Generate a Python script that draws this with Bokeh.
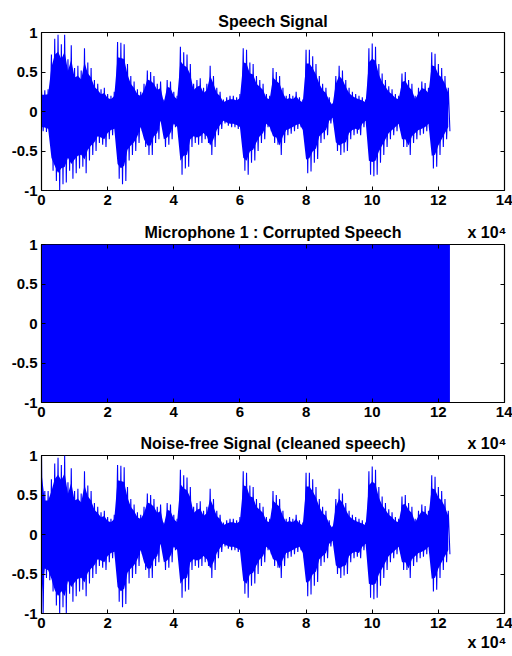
from bokeh.plotting import figure
from bokeh.layouts import column
from bokeh.models import FixedTicker, LinearAxis, Range1d
from bokeh.embed import file_html
from bokeh.resources import INLINE

# ---------------- data ----------------
sample_step = 1000  # envelope read every 1000 samples

speech_upper = [
    0.27, 0.27, 0.28, 0.72, 0.92, 0.97, 0.85, 0.97, 0.66, 0.84,
    0.55, 0.58, 0.52, 0.80, 0.62, 0.55, 0.40, 0.35, 0.28, 0.30,
    0.22, 0.20, 0.25, 0.88, 0.87, 0.85, 0.60, 0.45, 0.38, 0.28,
    0.25, 0.35, 0.52, 0.50, 0.45, 0.35, 0.38, 0.15, 0.40, 0.38,
    0.25, 0.20, 0.82, 0.75, 0.72, 0.60, 0.35, 0.40, 0.42, 0.30,
    0.35, 0.58, 0.45, 0.30, 0.25, 0.15, 0.18, 0.20, 0.20, 0.18,
    0.22, 0.80, 0.78, 0.62, 0.60, 0.45, 0.40, 0.35, 0.22, 0.20,
    0.55, 0.50, 0.45, 0.30, 0.20, 0.22, 0.20, 0.25, 0.18, 0.15,
    0.78, 0.78, 0.70, 0.60, 0.45, 0.35, 0.30, 0.18, 0.10, 0.45,
    0.58, 0.52, 0.40, 0.30, 0.25, 0.22, 0.20, 0.18, 0.15, 0.80,
    0.86, 0.82, 0.60, 0.48, 0.40, 0.32, 0.28, 0.22, 0.20, 0.48,
    0.50, 0.40, 0.35, 0.20, 0.30, 0.38, 0.36, 0.30, 0.75, 0.73,
    0.60, 0.55, 0.45, 0.30,
]
speech_lower = [
    -0.25, -0.26, -0.28, -0.75, -0.88, -1.00, -0.92, -0.90, -0.75, -0.85,
    -0.78, -0.72, -0.70, -0.78, -0.62, -0.55, -0.50, -0.40, -0.42, -0.45,
    -0.35, -0.30, -0.28, -0.85, -0.92, -0.88, -0.62, -0.55, -0.50, -0.40,
    -0.25, -0.45, -0.55, -0.55, -0.40, -0.35, -0.15, -0.45, -0.42, -0.35,
    -0.20, -0.25, -0.80, -0.72, -0.70, -0.45, -0.40, -0.42, -0.40, -0.35,
    -0.40, -0.55, -0.45, -0.30, -0.22, -0.15, -0.18, -0.20, -0.20, -0.22,
    -0.25, -0.75, -0.80, -0.65, -0.62, -0.50, -0.40, -0.35, -0.20, -0.25,
    -0.40, -0.42, -0.55, -0.40, -0.30, -0.28, -0.25, -0.22, -0.20, -0.30,
    -0.78, -0.76, -0.65, -0.60, -0.40, -0.35, -0.30, -0.15, -0.10, -0.50,
    -0.55, -0.52, -0.50, -0.35, -0.30, -0.28, -0.30, -0.20, -0.15, -0.80,
    -0.82, -0.80, -0.65, -0.55, -0.45, -0.35, -0.30, -0.25, -0.20, -0.45,
    -0.45, -0.55, -0.40, -0.35, -0.30, -0.28, -0.25, -0.20, -0.72, -0.70,
    -0.55, -0.45, -0.35, -0.25,
]

clean_head_upper = [1.00, 0.55, 0.55, 0.70, 0.90, 0.97, 0.88, 1.00]
clean_head_lower = [-1.00, -0.55, -0.58, -0.72, -0.90, -1.00, -0.92, -1.00]
clean_upper = clean_head_upper + speech_upper[len(clean_head_upper):]
clean_lower = clean_head_lower + speech_lower[len(clean_head_lower):]

noise_x = [0, 123500]
noise_top = [1.0, 1.0]
noise_bottom = [-1.0, -1.0]

x_ticks = [0, 20000, 40000, 60000, 80000, 100000, 120000, 140000]
x_tick_labels = ["0", "2", "4", "6", "8", "10", "12", "14"]
y_ticks = [-1, -0.5, 0, 0.5, 1]
y_tick_labels = ["-1", "-0.5", "0", "0.5", "1"]
exponent_label = "x 10\u2074"

titles = ["Speech Signal", "Microphone 1 : Corrupted Speech",
          "Noise-free Signal (cleaned speech)"]

BLUE = "#0000ff"
FONT = "Liberation Sans"
TITLE_X = 70000      # centre of the axes box
EXPONENT_X = 134700  # where MATLAB puts the "x 10^4" multiplier
CORE_FRACTION = 0.78  # drawing style: dense core of the waveform


def zigzag(upper, lower):
    xs, ys = [], []
    for i, (u, l) in enumerate(zip(upper, lower)):
        xs += [i * sample_step, i * sample_step + sample_step / 2]
        ys += [u, l]
    return xs, ys


def text_axis(ticks, labels, standoff, size):
    return LinearAxis(ticker=FixedTicker(ticks=ticks),
                      major_label_overrides=dict(zip(ticks, labels)),
                      major_tick_in=0, major_tick_out=0,
                      major_tick_line_color=None, minor_tick_line_color=None,
                      axis_line_color=None, major_label_standoff=standoff,
                      major_label_text_font=FONT,
                      major_label_text_font_size=size,
                      major_label_text_font_style="bold",
                      major_label_text_color="black")


def make_fig(height, top, bottom):
    p = figure(width=512, height=height, x_range=Range1d(0, 140000),
               y_range=Range1d(-1, 1), output_backend="svg",
               toolbar_location=None, min_border_left=41, min_border_right=8,
               min_border_top=top, min_border_bottom=bottom,
               background_fill_color="white", border_fill_color="white")
    p.grid.visible = False
    p.outline_line_color = "black"
    p.outline_line_alpha = 1
    p.outline_line_width = 1.2

    xt = FixedTicker(ticks=x_ticks)
    yt = FixedTicker(ticks=y_ticks)
    for ax in p.xaxis:
        ax.ticker = xt
        ax.major_label_overrides = dict(zip(x_ticks, x_tick_labels))
    for ax in p.yaxis:
        ax.ticker = yt
        ax.major_label_overrides = dict(zip(y_ticks, y_tick_labels))
    for ax in p.xaxis + p.yaxis:
        ax.minor_tick_line_color = None
        ax.major_tick_in = 4
        ax.major_tick_out = 0
        ax.major_tick_line_color = "black"
        ax.axis_line_color = "black"
        ax.major_label_text_font = FONT
        ax.major_label_text_font_size = "15px"
        ax.major_label_text_font_style = "bold"
        ax.major_label_text_color = "black"
        ax.major_label_standoff = 4

    # inward ticks on the top and right edges of the box (no labels)
    top_ax = LinearAxis(ticker=xt,
                        major_label_overrides={t: "" for t in x_ticks},
                        major_label_text_font_size="1px",
                        major_tick_in=4, major_tick_out=0,
                        major_label_standoff=0,
                        minor_tick_line_color=None, axis_line_color=None)
    right_ax = LinearAxis(ticker=yt,
                          major_label_overrides={t: "" for t in y_ticks},
                          major_label_text_font_size="1px",
                          major_tick_in=4, major_tick_out=0,
                          major_label_standoff=0,
                          minor_tick_line_color=None, axis_line_color=None)
    p.add_layout(top_ax, "above")
    p.add_layout(right_ax, "right")
    return p


def waveform(p, upper, lower):
    xs = [i * sample_step for i in range(len(upper))]
    core_hi = [CORE_FRACTION * u for u in upper]
    core_lo = [CORE_FRACTION * l for l in lower]
    p.varea(x=xs, y1=core_lo, y2=core_hi, fill_color=BLUE)
    zx, zy = zigzag(upper, lower)
    p.line(zx, zy, line_color=BLUE, line_width=1.1)


# ---- subplot 1 ----
p1 = make_fig(220, 32, 30)
waveform(p1, speech_upper, speech_lower)
p1.add_layout(text_axis([TITLE_X], [titles[0]], 3, "16px"), "above")

# ---- subplot 2 (title line also carries the x 10^4 of subplot 1) ----
p2 = make_fig(211, 24, 29)
p2.varea(x=noise_x, y1=noise_bottom, y2=noise_top, fill_color=BLUE)
p2.add_layout(text_axis([TITLE_X, EXPONENT_X],
                        [titles[1], exponent_label], 4, "16px"), "above")

# ---- subplot 3 ----
p3 = make_fig(225, 24, 43)
waveform(p3, clean_upper, clean_lower)
p3.add_layout(text_axis([TITLE_X, EXPONENT_X],
                        [titles[2], exponent_label], 4, "16px"), "above")
p3.add_layout(text_axis([EXPONENT_X], [exponent_label], 3, "16px"), "below")

layout = column(p1, p2, p3, spacing=0)
open("out.html", "w").write(file_html(layout, INLINE))
